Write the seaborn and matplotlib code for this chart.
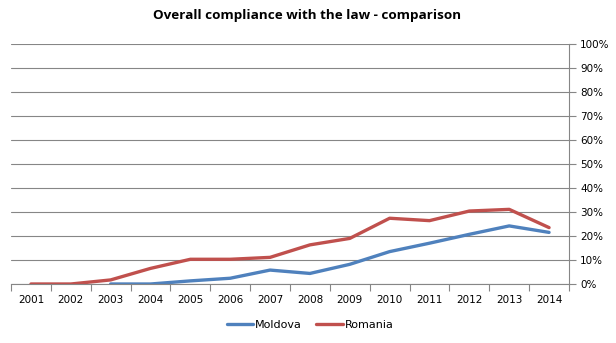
import numpy as np
import pandas as pd
import seaborn as sns
import matplotlib
matplotlib.use("Agg")
import matplotlib.pyplot as plt
from matplotlib.ticker import FixedLocator, PercentFormatter

years = ["2001", "2002", "2003", "2004", "2005", "2006", "2007",
         "2008", "2009", "2010", "2011", "2012", "2013", "2014"]
moldova = [np.nan, np.nan, 0.0, 0.0, 1.3, 2.4, 5.8, 4.4, 8.2, 13.5, 17.0, 20.7, 24.2, 21.5]
romania = [0.0, 0.0, 1.7, 6.5, 10.3, 10.3, 11.1, 16.3, 19.0, 27.4, 26.4, 30.4, 31.1, 23.5]
series_names = ["Moldova", "Romania"]
palette = ["#4F81BD", "#C0504D"]
y_ticks = list(range(0, 101, 10))

sns.set_theme(style="white")
plt.rcParams["font.family"] = ["DejaVu Sans"]
plt.rcParams["text.color"] = "#000000"

df = pd.DataFrame({
    "pos": list(range(len(years))) * 2,
    "value": moldova + romania,
    "country": [series_names[0]] * len(years) + [series_names[1]] * len(years),
})

fig = plt.figure(figsize=(6.16, 3.43), dpi=100)
ax = fig.add_axes([11 / 616, 1 - 284 / 343, (569 - 11) / 616, (284 - 44) / 343])

sns.lineplot(data=df, x="pos", y="value", hue="country", palette=palette,
             linewidth=2.4, ax=ax, legend=True)

grid_color = "#868686"
ax.set_xlim(-0.5, len(years) - 0.5)
ax.set_ylim(0, 100)
ax.set_xticks(range(len(years)))
ax.set_xticklabels(years, fontsize=7.5, color="#000000")
ax.xaxis.set_minor_locator(FixedLocator(np.arange(-0.5, len(years), 1.0)))
ax.tick_params(axis="x", which="both", bottom=True, direction="out")
ax.tick_params(axis="x", which="major", length=0, pad=8)
ax.tick_params(axis="x", which="minor", length=5, width=0.8, color=grid_color)

ax.yaxis.tick_right()
ax.set_yticks(y_ticks)
ax.yaxis.set_major_formatter(PercentFormatter(decimals=0))
ax.tick_params(axis="y", which="major", right=True, length=5, width=0.8, color=grid_color,
               labelsize=7.5, labelcolor="#000000", pad=3, direction="out")
ax.grid(axis="y", color=grid_color, linewidth=0.8)
ax.set_axisbelow(True)

for side in ["left", "top"]:
    ax.spines[side].set_visible(False)
for side in ["right", "bottom"]:
    ax.spines[side].set_color(grid_color)
    ax.spines[side].set_linewidth(0.8)

ax.set_xlabel("")
ax.set_ylabel("")

ax.set_title("Overall compliance with the law - comparison", fontsize=9.7,
             fontweight="bold", family="Open Sans", color="#000000",
             pad=18, x=(307 - 11) / 558)

handles, labels = ax.get_legend_handles_labels()
leg = ax.legend(handles, labels, loc="center", bbox_to_anchor=(310 / 616, 1 - 325 / 343),
                bbox_transform=fig.transFigure, ncol=2, frameon=False, fontsize=8,
                handlelength=2.4, handletextpad=0.15, columnspacing=1.3)
for t in leg.get_texts():
    t.set_color("#000000")

fig.savefig("out.png", dpi=100)
